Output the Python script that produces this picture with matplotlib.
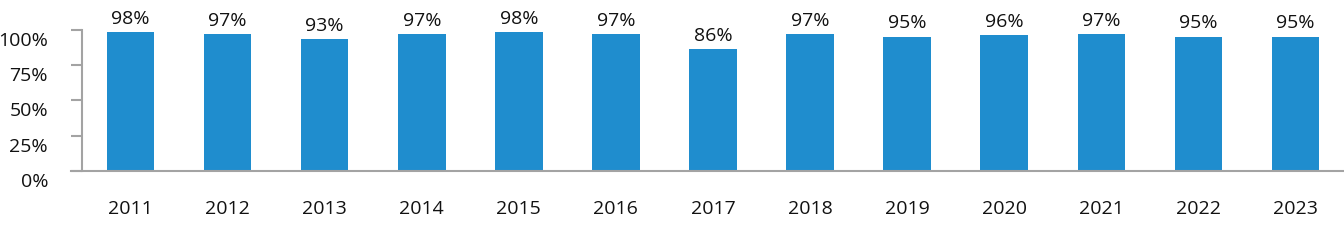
import matplotlib
matplotlib.use("Agg")
import matplotlib.pyplot as plt
import matplotlib.transforms as mtransforms
from matplotlib.lines import Line2D

years = ["2011", "2012", "2013", "2014", "2015", "2016", "2017", "2018", "2019", "2020", "2021", "2022", "2023"]
values = [98, 97, 93, 97, 98, 97, 86, 97, 95, 96, 97, 95, 95]
yticks = [0, 25, 50, 75, 100]
ytick_labels = ["0%", "25%", "50%", "75%", "100%"]

plt.rcParams['font.family'] = ['Open Sans', 'DejaVu Sans']

W, H = 1344, 240
fig = plt.figure(figsize=(W / 100, H / 100), dpi=100)
left = 82 / W
bottom = 1 - 171 / H
top = 1 - 29.5 / H
ax = fig.add_axes([left, bottom, 1 - left, top - bottom])

color = "#1F8DCE"
x = list(range(len(years)))
bars = ax.bar(x, values, width=0.49, color=color, zorder=2)
for xi, v in zip(x, values):
    ax.annotate(f"{v}%", (xi, v), xytext=(0, 3), textcoords="offset points",
                ha="center", va="bottom", fontsize=14, color="#111111")

ax.set_xlim(-0.5, len(years) - 0.5)
ax.set_ylim(0, 100)
ax.set_yticks(yticks)
ax.set_yticklabels([])
ax.set_xticks(x)
ax.set_xticklabels(years, fontsize=14, color="#111111")

# y tick labels, drawn slightly below their ticks as in the reference
lab_trans = ax.get_yaxis_transform() + mtransforms.ScaledTranslation(-34 / 100, -9 / 100, fig.dpi_scale_trans)
for t, lab in zip(yticks, ytick_labels):
    ax.text(0, t, lab, transform=lab_trans, ha="right", va="center_baseline",
            fontsize=14, color="#111111", clip_on=False)

spine_color = "#A3A3A3"
for s in ["top", "right"]:
    ax.spines[s].set_visible(False)
ax.spines["bottom"].set_visible(False)
ax.spines["left"].set_color(spine_color)
ax.spines["left"].set_linewidth(1.5)
ax.tick_params(axis="y", length=8, width=1.5, color=spine_color, pad=16)
ax.tick_params(axis="x", length=0, pad=21)

fig.add_artist(Line2D([71 / W, 1.0], [bottom, bottom], color=spine_color, lw=1.5,
                      transform=fig.transFigure))

fig.savefig("out.png", dpi=100)
